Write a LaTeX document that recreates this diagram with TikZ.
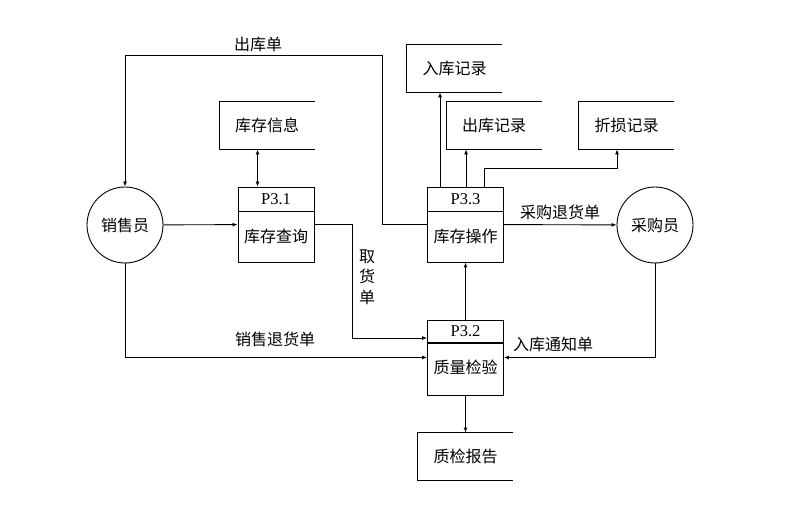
\documentclass[tikz,border=0pt]{standalone}
\usepackage{fontspec}
\newfontfamily\cjk{Noto Sans CJK SC}
\newfontfamily\pnum{Liberation Serif}
\usetikzlibrary{arrows.meta}

\begin{document}
\begin{tikzpicture}[x=1pt, y=-1pt, line width=0.9pt,
    every node/.style={font=\cjk\fontsize{16}{20.5}\selectfont},
    ext/.style={draw, circle, minimum size=76pt, inner sep=0pt},
    proc/.style={draw, minimum width=76pt, minimum height=75pt, inner sep=0pt},
    head/.style={font=\pnum\fontsize{16.5}{18}\selectfont},
    store/.style={minimum width=95pt, minimum height=47pt, inner sep=0pt},
    flow/.style={-{Latex[length=5pt, width=4pt]}}]
    \useasboundingbox (0, 0) rectangle (807, 510);

    \node[ext] (xsy) at (125, 225) {销售员};
    \node[ext] (cgy) at (655, 225) {采购员};

    \node[proc] (p31) at (276, 224.5) {};
    \node[proc] (p33) at (465.5, 224.5) {};
    \node[proc] (p32) at (465.5, 357.5) {};
    \node[head] (p31h) at ([yshift=-12.5pt]p31.north) {P3.1};
    \node[head] (p33h) at ([yshift=-12.5pt]p33.north) {P3.3};
    \node[head] (p32h) at ([yshift=-12pt]p32.north) {P3.2};
    \node (p31b) at ([yshift=-50pt]p31.north) {库存查询};
    \node (p33b) at ([yshift=-50pt]p33.north) {库存操作};
    \node (p32b) at ([yshift=-48pt]p32.north) {质量检验};
    \draw ([yshift=-25pt]p31.north west) -- ([yshift=-25pt]p31.north east);
    \draw ([yshift=-25pt]p33.north west) -- ([yshift=-25pt]p33.north east);
    \draw[line width=2pt] ([yshift=-23pt]p32.north west) -- ([yshift=-23pt]p32.north east);

    \node[store] (kcxx) at (267, 125.5) {库存信息};
    \node[store] (rkjl) at (454.5, 68.5) {入库记录};
    \node[store] (ckjl) at (494, 125.5) {出库记录};
    \node[store] (zsjl) at (626.5, 125.5) {折损记录};
    \node[store] (zjbg) at (465.5, 456.5) {质检报告};
    \foreach \s in {kcxx, rkjl, ckjl, zsjl, zjbg}
        \draw (\s.north east) -- (\s.north west) -- (\s.south west) -- (\s.south east);

    % flows
    \coordinate (ck) at (382, 55);
    \draw[flow] (p33.west) -| (ck) -| (xsy.north);
    \node (lck) at (258, 44) {出库单};

    \coordinate (o4) at ([xshift=20pt]p31.north west);
    \draw[{Latex[length=5pt, width=4pt]}-{Latex[length=5pt, width=4pt]}] (o4) -- (o4 |- kcxx.south);

    \draw[flow] (xsy) -- (p31);

    \coordinate (qh) at (352, 338);
    \draw[flow] (p31.east) -| (qh) -- (qh -| p32.west);
    \node[align=center] (lqh) at (367, 277) {取\\货\\单};

    \draw[flow] (xsy.south) |- (p32.west);
    \node (lxt) at (275, 339) {销售退货单};

    \draw[flow] (cgy.south) |- (p32.east);
    \node (lrt) at (553, 344) {入库通知单};

    \draw[flow] (p32) -- (p33);
    \draw[flow] (p32) -- (zjbg);

    \draw[flow] (p33) -- (cgy);
    \node (lct) at (560, 212) {采购退货单};

    \coordinate (o1) at ([xshift=13pt]p33.north west);
    \coordinate (o2) at ([xshift=39pt]p33.north west);
    \coordinate (o3) at ([xshift=57pt]p33.north west);
    \coordinate (zs) at (617, 168);
    \draw[flow] (o1) -- (o1 |- rkjl.south);
    \draw[flow] (o2) -- (o2 |- ckjl.south);
    \draw[flow] (o3) |- (zs) -- (zs |- zsjl.south);
\end{tikzpicture}
\end{document}
